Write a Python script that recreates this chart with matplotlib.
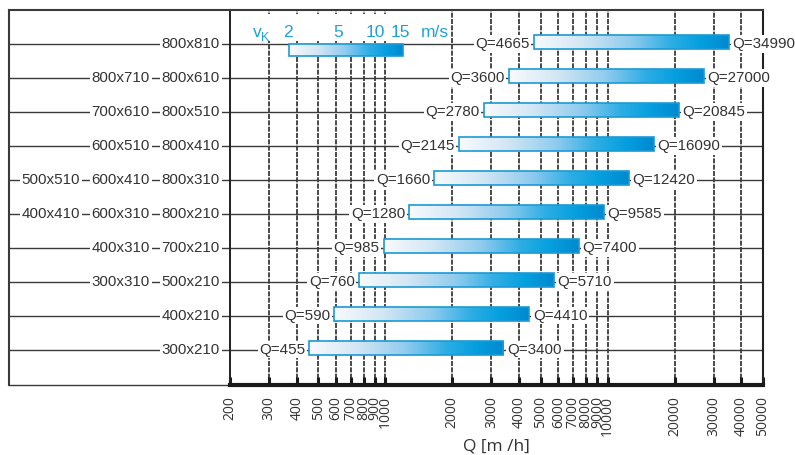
import matplotlib
matplotlib.use("Agg")
import matplotlib.pyplot as plt
import numpy as np
from matplotlib.colors import LinearSegmentedColormap
from matplotlib.patches import Rectangle
from matplotlib.ticker import FixedLocator, FixedFormatter, NullLocator
from matplotlib.transforms import blended_transform_factory

# ---------------- data ----------------
q_min = [4665, 3600, 2780, 2145, 1660, 1280, 985, 760, 590, 455]
q_max = [34990, 27000, 20845, 16090, 12420, 9585, 7400, 5710, 4410, 3400]
sizes = [
    ["800x810"],
    ["800x710", "800x610"],
    ["700x610", "800x510"],
    ["600x510", "800x410"],
    ["500x510", "600x410", "800x310"],
    ["400x410", "600x310", "800x210"],
    ["400x310", "700x210"],
    ["300x310", "500x210"],
    ["400x210"],
    ["300x210"],
]
tick_values = [200, 300, 400, 500, 600, 700, 800, 900, 1000,
               2000, 3000, 4000, 5000, 6000, 7000, 8000, 9000, 10000,
               20000, 30000, 40000, 50000]
tick_labels = [str(v) for v in tick_values]
speed_labels = ["2", "5", "10", "15"]
speed_unit = "m/s"
axis_label = "Q [m /h]"

# ---------------- style ----------------
plt.rcParams["font.family"] = ["Open Sans", "DejaVu Sans"]
LAB_FONT = ["Liberation Sans", "DejaVu Sans"]
TXT = "#333333"
LINE = "#3a3a3a"
BLUE_TXT = "#1ea0d9"
EDGE = "#1b9ad6"
cmap = LinearSegmentedColormap.from_list(
    "bar", [(0.0, "#f8fafc"), (0.25, "#d3e6f4"), (0.5, "#8fcbee"),
            (0.7, "#2eaee4"), (0.85, "#06a0df"), (1.0, "#0089cf")])
grad = np.linspace(0, 1, 256).reshape(1, -1)

W, H = 795, 455
top, bot = 10, 385
xl, xm, xr = 9, 230, 763

fig = plt.figure(figsize=(W / 100, H / 100), dpi=100)
axL = fig.add_axes([xl / W, 1 - bot / H, (xm - xl) / W, (bot - top) / H])
axR = fig.add_axes([xm / W, 1 - bot / H, (xr - xm) / W, (bot - top) / H])

n = len(q_min)
yvals = [n - 1 - i for i in range(n)]
ylim = (-1.03, n)

for ax in (axL, axR):
    ax.set_ylim(*ylim)
    ax.set_yticks([])
axL.set_xlim(0, 1)
axL.set_xticks([])
axR.set_xscale("log")
axR.set_xlim(tick_values[0], tick_values[-1])

# spines
for s in ("left", "top", "bottom"):
    axL.spines[s].set_color(LINE)
axL.spines["left"].set_linewidth(1.5)
axL.spines["top"].set_linewidth(1.5)
axL.spines["bottom"].set_linewidth(1.0)
axL.spines["right"].set_visible(False)
axR.spines["top"].set_color(LINE)
axR.spines["top"].set_linewidth(1.5)
axR.spines["left"].set_color("#222222")
axR.spines["left"].set_linewidth(1.4)
axR.spines["right"].set_color("#222222")
axR.spines["right"].set_linewidth(1.5)
axR.spines["bottom"].set_color("#1a1a1a")
axR.spines["bottom"].set_linewidth(3.0)

# ticks
axR.xaxis.set_major_locator(FixedLocator(tick_values))
axR.xaxis.set_major_formatter(FixedFormatter(tick_labels))
axR.xaxis.set_minor_locator(NullLocator())
axR.tick_params(axis="x", which="major", direction="in", length=6, width=2.2,
                color="#1a1a1a", labelrotation=90, labelsize=10, pad=8,
                labelcolor=TXT)
axR.set_axisbelow(True)
axR.grid(axis="x", which="major", linestyle=(0, (3, 0.8)), color="#2a2a2a", lw=1.2)

axR.set_xlabel(axis_label, fontsize=12.5, color=TXT)
axR.xaxis.set_label_coords(0.5, -0.143)

# horizontal row lines
for y in yvals:
    axL.axhline(y, color=LINE, lw=1.0, zorder=1)
    axR.axhline(y, color=LINE, lw=1.0, zorder=1)

# bars with gradient
to_axes = axR.transScale + axR.transLimits
bar_h = 0.41
bar_off = -0.147
box = dict(facecolor="white", edgecolor="none", boxstyle="square,pad=0.1")
axR.set_autoscale_on(False)
for y, q0, q1 in zip(yvals, q_min, q_max):
    yb = y + bar_off
    (fx0, fy0) = to_axes.transform((q0, yb))
    (fx1, fy1) = to_axes.transform((q1, yb + bar_h))
    axR.imshow(grad, cmap=cmap, aspect="auto", extent=(fx0, fx1, fy0, fy1),
               transform=axR.transAxes, zorder=3, interpolation="bilinear")
    axR.add_patch(Rectangle((q0, yb), q1 - q0, bar_h, facecolor="none",
                            edgecolor=EDGE, lw=1.2, zorder=3.5))
    axR.annotate(f"Q={q0}", xy=(q0, y), xytext=(-3, 0), textcoords="offset points",
                 ha="right", va="center", fontsize=10.9, color=TXT,
                 family=LAB_FONT, bbox=box, zorder=4)
    axR.annotate(f"Q={q1}", xy=(q1, y), xytext=(3, 0), textcoords="offset points",
                 ha="left", va="center", fontsize=10.9, color=TXT,
                 family=LAB_FONT, bbox=box, zorder=4, annotation_clip=False)

# left size labels
trL = blended_transform_factory(axL.transAxes, axL.transData)
for y, row in zip(yvals, sizes):
    for k, lab in enumerate(reversed(row)):
        xpx = 220 - 70 * k
        axL.text((xpx - xl) / (xm - xl), y, lab, transform=trL, ha="right",
                 va="center", fontsize=10.9, color=TXT, family=LAB_FONT,
                 bbox=box, zorder=4)

# velocity key (top)
def afx(px):
    return (px - xm) / (xr - xm)

def afy(py):
    return (bot - py) / (bot - top)

axR.add_patch(Rectangle((afx(240), afy(41)), afx(450) - afx(240), afy(14) - afy(41),
                        transform=axR.transAxes, facecolor="white", edgecolor="none",
                        zorder=2))
axR.imshow(grad, cmap=cmap, aspect="auto",
           extent=(afx(289), afx(403), afy(56), afy(44)),
           transform=axR.transAxes, zorder=3, interpolation="bilinear")
axR.add_patch(Rectangle((afx(289), afy(56)), afx(403) - afx(289), afy(44) - afy(56),
                        transform=axR.transAxes, facecolor="none", edgecolor=EDGE,
                        lw=1.2, zorder=3.5))
key_x = [288, 338, 375, 400]
for lab, px in zip(speed_labels, key_x):
    axR.text(afx(px), afy(37), lab, transform=axR.transAxes, ha="center",
             va="baseline", fontsize=12.5, color=BLUE_TXT, family=LAB_FONT, zorder=4)
axR.text(afx(435), afy(37), speed_unit, transform=axR.transAxes, ha="center",
         va="baseline", fontsize=12.5, color=BLUE_TXT, family=LAB_FONT, zorder=4)
axR.text(afx(257), afy(37), "v", transform=axR.transAxes, ha="center",
         va="baseline", fontsize=12.5, color=BLUE_TXT, family=LAB_FONT, zorder=4)
axR.text(afx(265), afy(41), "K", transform=axR.transAxes, ha="center",
         va="baseline", fontsize=9, color=BLUE_TXT, family=LAB_FONT, zorder=4)

axR.set_xlim(tick_values[0], tick_values[-1])
axR.set_ylim(*ylim)

fig.savefig("out.png", dpi=100)
